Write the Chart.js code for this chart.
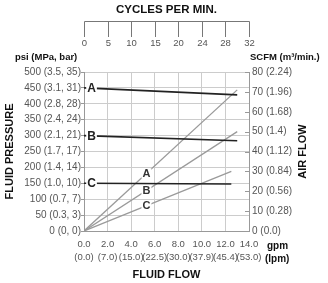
<!DOCTYPE html>
<html>
<head>
<meta charset="utf-8">
<script src="https://cdn.jsdelivr.net/npm/chart.js@4.4.1/dist/chart.umd.min.js"></script>
<style>
  html, body { margin: 0; padding: 0; background: #fff; }
  canvas { display: block; }
</style>
</head>
<body>
<canvas id="pumpChart" width="328" height="283"></canvas>
<script>
// curve names and values (A, B, C)
const curveNames = ['A', 'B', 'C'];
const lineEndGpm = [13, 13, 12.5];
const pressureStart = [450, 300, 150];
const pressureEnd = [428, 284, 148];
const airEnd = [71, 50, 30];

// tick labels
const gpmTicks = ['0.0', '2.0', '4.0', '6.0', '8.0', '10.0', '12.0', '14.0'];
const lpmTicks = ['(0.0)', '(7.0)', '(15.0)', '(22.5)', '(30.0)', '(37.9)', '(45.4)', '(53.0)'];
const cycleTicks = ['0', '5', '10', '15', '20', '24', '28', '32'];
const psiMetric = ['(0, 0)', '(0.3, 3)', '(0.7, 7)', '(1.0, 10)', '(1.4, 14)', '(1.7, 17)',
  '(2.1, 21)', '(2.4, 24)', '(2.8, 28)', '(3.1, 31)', '(3.5, 35)'];
const scfmMetric = ['(0.0)', '(0.28)', '(0.56)', '(0.84)', '(1.12)', '(1.4)', '(1.68)', '(1.96)', '(2.24)'];

const FONT = '"Liberation Sans", Arial, sans-serif';
const GRAY_TXT = '#555';
const AXIS = '#999';

const pressureSets = curveNames.map((n, i) => ({
  label: 'Pressure ' + n,
  data: [{ x: 0, y: pressureStart[i] }, { x: lineEndGpm[i], y: pressureEnd[i] }],
  yAxisID: 'y',
  borderColor: '#222',
  borderWidth: 1.6,
  pointRadius: 0
}));

const airSets = curveNames.map((n, i) => ({
  label: 'Air ' + n,
  data: [{ x: 0, y: 0 }, { x: lineEndGpm[i], y: airEnd[i] }],
  yAxisID: 'y2',
  borderColor: '#9a9a9a',
  borderWidth: 1.3,
  pointRadius: 0
}));

function boxedText(ctx, text, x, y, font, color) {
  ctx.font = font;
  const w = ctx.measureText(text).width;
  ctx.fillStyle = '#fff';
  ctx.fillRect(x - w / 2 - 1, y - 5, w + 2, 10);
  ctx.fillStyle = color;
  ctx.textAlign = 'center';
  ctx.textBaseline = 'middle';
  ctx.fillText(text, x, y + 0.5);
}

const extras = {
  id: 'extras',
  afterDatasetsDraw(chart) {
    const ctx = chart.ctx;
    const x = chart.scales.x, y = chart.scales.y, y2 = chart.scales.y2;
    ctx.save();
    // letters at the start of the pressure lines
    curveNames.forEach((n, i) => {
      const gx = 0.64;
      const py = pressureStart[i] + (pressureEnd[i] - pressureStart[i]) * gx / lineEndGpm[i];
      boxedText(ctx, n, x.getPixelForValue(gx), y.getPixelForValue(py), 'bold 12px ' + FONT, '#222');
    });
    // letters on the air flow lines
    curveNames.forEach((n, i) => {
      const gx = 5.3;
      const ay = airEnd[i] * gx / lineEndGpm[i];
      boxedText(ctx, n, x.getPixelForValue(gx), y2.getPixelForValue(ay), 'bold 11px ' + FONT, '#333');
    });
    ctx.restore();
  },
  afterDraw(chart) {
    const ctx = chart.ctx;
    const x = chart.scales.x, y2 = chart.scales.y2;
    const area = chart.chartArea;
    ctx.save();

    // small inner ticks of the right axis
    ctx.strokeStyle = AXIS;
    ctx.lineWidth = 1;
    y2.ticks.forEach(t => {
      const py = Math.round(y2.getPixelForValue(t.value)) + 0.5;
      ctx.beginPath();
      ctx.moveTo(area.right - 4, py);
      ctx.lineTo(area.right, py);
      ctx.stroke();
    });

    // cycles per minute ruler on top
    const cx = (area.left + area.right) / 2;
    ctx.fillStyle = '#111';
    ctx.font = 'bold 11.5px ' + FONT;
    ctx.textAlign = 'center';
    ctx.textBaseline = 'middle';
    ctx.fillText('CYCLES PER MIN.', cx, 10);

    ctx.strokeStyle = '#777';
    ctx.beginPath();
    ctx.moveTo(Math.round(x.getPixelForValue(0)) + 0.5, 21.5);
    ctx.lineTo(Math.round(x.getPixelForValue(14)) + 0.5, 21.5);
    ctx.stroke();
    ctx.font = '9.5px ' + FONT;
    ctx.fillStyle = GRAY_TXT;
    cycleTicks.forEach((lab, i) => {
      const px = Math.round(x.getPixelForValue(i * 2)) + 0.5;
      ctx.beginPath();
      ctx.moveTo(px, 21.5);
      ctx.lineTo(px, 37);
      ctx.stroke();
      ctx.fillText(lab, px, 43.5);
    });

    // unit headers
    ctx.fillStyle = '#111';
    ctx.font = 'bold 9.5px ' + FONT;
    ctx.textAlign = 'left';
    ctx.fillText('psi (MPa, bar)', 15, 57);
    ctx.fillText('SCFM (m³/min.)', 250, 57);
    ctx.font = 'bold 10px ' + FONT;
    ctx.fillText('gpm', 267, 246);
    ctx.fillText('(lpm)', 265, 259);

    // right axis title, reading upward
    ctx.font = 'bold 11px ' + FONT;
    ctx.textAlign = 'center';
    ctx.translate(303, (area.top + area.bottom) / 2);
    ctx.rotate(-Math.PI / 2);
    ctx.fillText('AIR FLOW', 0, 0);
    ctx.restore();
  }
};

new Chart(document.getElementById('pumpChart'), {
  type: 'line',
  data: { datasets: pressureSets.concat(airSets) },
  plugins: [extras],
  options: {
    responsive: false,
    animation: false,
    devicePixelRatio: 1,
    layout: { padding: { top: 72, left: 0, right: 0, bottom: 0 } },
    plugins: { legend: { display: false }, tooltip: { enabled: false } },
    elements: { line: { tension: 0 } },
    scales: {
      x: {
        type: 'linear',
        position: 'bottom',
        min: 0,
        max: 14,
        afterFit: s => { s.height = 52; },
        ticks: {
          stepSize: 2,
          autoSkip: false,
          maxRotation: 0,
          padding: 7,
          color: GRAY_TXT,
          font: { family: FONT, size: 9.5, lineHeight: 1.37 },
          callback: v => [gpmTicks[v / 2], lpmTicks[v / 2]]
        },
        grid: { color: '#ccc', drawTicks: false },
        border: { color: AXIS },
        title: {
          display: true,
          text: 'FLUID FLOW',
          color: '#111',
          font: { family: FONT, size: 11, weight: 'bold' },
          padding: { top: 0, bottom: 1 }
        }
      },
      y: {
        type: 'linear',
        position: 'left',
        min: 0,
        max: 500,
        afterFit: s => { s.width = 84; },
        ticks: {
          stepSize: 50,
          padding: 0,
          color: GRAY_TXT,
          font: { family: FONT, size: 10 },
          callback: v => v + ' ' + psiMetric[v / 50]
        },
        grid: { color: '#ccc', tickLength: 3, tickColor: AXIS },
        border: { color: AXIS },
        title: {
          display: true,
          text: 'FLUID PRESSURE',
          color: '#111',
          font: { family: FONT, size: 11, weight: 'bold' },
          padding: { top: 3, bottom: 0 }
        }
      },
      y2: {
        type: 'linear',
        position: 'right',
        min: 0,
        max: 80,
        afterFit: s => { s.width = 79; },
        ticks: {
          stepSize: 10,
          padding: 3,
          color: GRAY_TXT,
          font: { family: FONT, size: 10 },
          callback: v => v + ' ' + scfmMetric[v / 10]
        },
        grid: { drawOnChartArea: false, drawTicks: false },
        border: { color: AXIS }
      }
    }
  }
});
</script>
</body>
</html>
